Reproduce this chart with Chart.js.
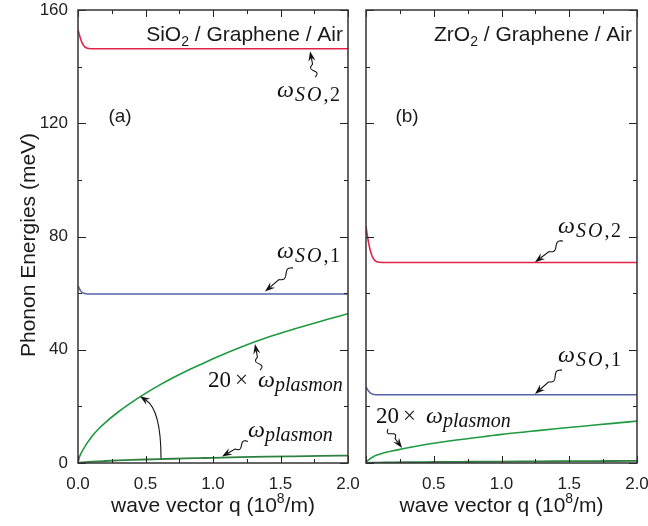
<!DOCTYPE html>
<html>
<head>
<meta charset="utf-8">
<script src="https://cdn.jsdelivr.net/npm/chart.js@4.4.0/dist/chart.umd.min.js"></script>
<style>
html, body { margin: 0; padding: 0; background: #fff; overflow: hidden; }
#wrap { position: relative; width: 648px; height: 526px; }
#left { position: absolute; left: 0; top: 0; }
#right { position: absolute; left: 358px; top: 0; }
</style>
</head>
<body>
<div id="wrap">
  <canvas id="left" width="365" height="526"></canvas>
  <canvas id="right" width="290" height="526"></canvas>
</div>
<script>
// wave vector q (10^8/m)
var q = [0, 0.01, 0.02, 0.03, 0.04, 0.05, 0.06, 0.08, 0.1, 0.15, 0.2, 0.3, 0.4, 0.5, 0.6, 0.7, 0.8, 0.9, 1.0, 1.2, 1.4, 1.6, 1.8, 2.0];

// (a) SiO2 / Graphene / Air
var sio2_so2 = [153.0, 151.3, 149.7, 148.5, 147.6, 147.0, 146.7, 146.4, 146.3, 146.3, 146.3, 146.3, 146.3, 146.3, 146.3, 146.3, 146.3, 146.3, 146.3, 146.3, 146.3, 146.3, 146.3, 146.3];
var sio2_so1 = [62.6, 61.6, 60.8, 60.3, 60.0, 59.9, 59.8, 59.7, 59.7, 59.7, 59.7, 59.7, 59.7, 59.7, 59.7, 59.7, 59.7, 59.7, 59.7, 59.7, 59.7, 59.7, 59.7, 59.7];
var sio2_pl20 = [0, 2.0, 3.2, 4.1, 4.9, 5.7, 6.5, 7.9, 9.2, 11.9, 14.2, 18.1, 21.5, 24.6, 27.4, 30.0, 32.4, 34.6, 36.8, 40.8, 44.3, 47.3, 50.1, 52.7];
var sio2_pl = [0, 0.10, 0.16, 0.21, 0.25, 0.29, 0.33, 0.40, 0.46, 0.60, 0.71, 0.91, 1.08, 1.23, 1.37, 1.50, 1.62, 1.73, 1.84, 2.04, 2.22, 2.37, 2.51, 2.64];

// (b) ZrO2 / Graphene / Air
var zro2_so2 = [83.5, 80.3, 77.6, 75.4, 73.7, 72.6, 71.8, 71.1, 70.9, 70.8, 70.8, 70.8, 70.8, 70.8, 70.8, 70.8, 70.8, 70.8, 70.8, 70.8, 70.8, 70.8, 70.8, 70.8];
var zro2_so1 = [26.9, 26.0, 25.3, 24.8, 24.5, 24.3, 24.2, 24.1, 24.1, 24.1, 24.1, 24.1, 24.1, 24.1, 24.1, 24.1, 24.1, 24.1, 24.1, 24.1, 24.1, 24.1, 24.1, 24.1];
var zro2_pl20 = [0, 0.7, 1.1, 1.5, 1.8, 2.1, 2.4, 2.8, 3.1, 3.8, 4.3, 5.3, 6.2, 7.0, 7.7, 8.3, 8.9, 9.5, 10.1, 11.1, 12.1, 13.0, 13.9, 14.8];
var zro2_pl = [0, 0.04, 0.06, 0.08, 0.09, 0.11, 0.12, 0.14, 0.16, 0.19, 0.22, 0.27, 0.31, 0.35, 0.39, 0.42, 0.45, 0.48, 0.51, 0.56, 0.61, 0.65, 0.70, 0.74];

// ticks
var xTicks = [0, 0.5, 1.0, 1.5, 2.0];
var xMinor = [0.25, 0.75, 1.25, 1.75];
var yTicks = [0, 40, 80, 120, 160];
var yMinor = [20, 60, 100, 140];

var SANS = '"Liberation Sans", Arial, sans-serif';
var SERIF = '"Liberation Serif", "Times New Roman", serif';

function pts(vals) {
	return q.map(function(v, i) { return {x: v, y: vals[i]}; });
}

function drawRich(ctx, x, y, segs, measureOnly) {
	var cx = x;
	segs.forEach(function(s) {
		if (s.gap) { cx += s.gap; return; }
		ctx.font = s.f;
		var sp = s.sp || 0;
		for (var k = 0; k < s.t.length; k++) {
			var ch = s.t[k];
			if (!measureOnly) ctx.fillText(ch, cx, y + (s.dy || 0));
			cx += ctx.measureText(ch).width + sp;
		}
	});
	return cx - x;
}

var MI = 'italic 24px ' + SERIF, MR = '23px ' + SERIF;
var SI = 'italic 20px ' + SERIF, SR = '20px ' + SERIF;
var mathLabels = {
	'SO,2': [{t: 'ω', f: MI}, {gap: 1}, {t: 'SO', f: SI, dy: 4, sp: 2}, {t: ',2', f: SR, dy: 4, sp: 1.5}],
	'SO,1': [{t: 'ω', f: MI}, {gap: 1}, {t: 'SO', f: SI, dy: 4, sp: 2}, {t: ',1', f: SR, dy: 4, sp: 1.5}],
	'20x': [{t: '20', f: MR}, {gap: 4}, {t: '×', f: MR}, {gap: 10}, {t: 'ω', f: MI}, {t: 'plasmon', f: 'italic 20px ' + SERIF, dy: 4}],
	'pl': [{t: 'ω', f: MI}, {t: 'plasmon', f: 'italic 20px ' + SERIF, dy: 4}]
};

function arrowHead(ctx, x, y, ux, uy) {
	var nx = -uy, ny = ux, l = 10, w = 3.6;
	ctx.beginPath();
	ctx.moveTo(x, y);
	ctx.lineTo(x - ux * l + nx * w, y - uy * l + ny * w);
	ctx.lineTo(x - ux * l * 0.65, y - uy * l * 0.65);
	ctx.lineTo(x - ux * l - nx * w, y - uy * l - ny * w);
	ctx.closePath();
	ctx.fill();
}

function squiggle(ctx, x0, y0, x1, y1) {
	var dx = x1 - x0, dy = y1 - y0, L = Math.hypot(dx, dy);
	var ux = dx / L, uy = dy / L, nx = -uy, ny = ux;
	var wl = L * 0.5;
	ctx.beginPath();
	for (var i = 0; i <= 40; i++) {
		var s = i / 40 * wl;
		var off = 2.6 * Math.sin(s / wl * 2 * Math.PI);
		ctx.lineTo(x0 + ux * s + nx * off, y0 + uy * s + ny * off);
	}
	ctx.lineTo(x1 - ux * 7, y1 - uy * 7);
	ctx.stroke();
	arrowHead(ctx, x1, y1, ux, uy);
}

var decor = {
	id: 'decor',
	afterDraw: function(chart, args, opts) {
		var ctx = chart.ctx, a = chart.chartArea, sx = chart.scales.x, sy = chart.scales.y;
		var P = function(p) { return [sx.getPixelForValue(p[0]), sy.getPixelForValue(p[1])]; };
		ctx.save();
		// ticks on all four sides
		ctx.strokeStyle = '#222';
		ctx.lineWidth = 1;
		ctx.beginPath();
		function xt(v, len) {
			var x = Math.round(sx.getPixelForValue(v)) + 0.5;
			ctx.moveTo(x, a.bottom); ctx.lineTo(x, a.bottom - len);
			ctx.moveTo(x, a.top); ctx.lineTo(x, a.top + len);
		}
		function yt(v, len) {
			var y = Math.round(sy.getPixelForValue(v)) + 0.5;
			ctx.moveTo(a.left, y); ctx.lineTo(a.left + len, y);
			ctx.moveTo(a.right, y); ctx.lineTo(a.right - len, y);
		}
		xTicks.forEach(function(v) { xt(v, 7); });
		xMinor.forEach(function(v) { xt(v, 4); });
		yTicks.forEach(function(v) { yt(v, 8); });
		yMinor.forEach(function(v) { yt(v, 4); });
		ctx.stroke();
		ctx.lineWidth = 1.5;
		ctx.strokeStyle = '#333';
		ctx.strokeRect(a.left, a.top, a.right - a.left, a.bottom - a.top);

		ctx.fillStyle = '#1a1a1a';
		ctx.textBaseline = 'alphabetic';
		ctx.textAlign = 'left';
		// panel title (right aligned)
		var tsegs = [{t: opts.title[0], f: '21px ' + SANS}, {t: '2', f: '14px ' + SANS, dy: 5}, {t: opts.title[1], f: '21px ' + SANS}];
		var tw = drawRich(ctx, 0, 0, tsegs, true);
		drawRich(ctx, a.right - 5 - tw, 41, tsegs);
		// panel letter
		ctx.font = '19px ' + SANS;
		ctx.textAlign = 'center';
		ctx.textBaseline = 'middle';
		ctx.fillText(opts.letter, opts.letterX, 117);
		ctx.textAlign = 'left';
		ctx.textBaseline = 'alphabetic';
		// x axis title
		var xsegs = [{t: 'wave vector q (10', f: '21px ' + SANS}, {t: '8', f: '14px ' + SANS, dy: -9}, {t: '/m)', f: '21px ' + SANS}];
		var xw = drawRich(ctx, 0, 0, xsegs, true);
		drawRich(ctx, (a.left + a.right) / 2 - xw / 2, 512, xsegs);
		// y axis title
		if (opts.yTitle) {
			ctx.save();
			ctx.translate(35, 245);
			ctx.rotate(-Math.PI / 2);
			ctx.font = '21px ' + SANS;
			ctx.textAlign = 'center';
			ctx.fillText(opts.yTitle, 0, 0);
			ctx.restore();
		}
		// math labels
		ctx.fillStyle = '#111';
		opts.labels.forEach(function(l) {
			var p = P([l.q, l.e]);
			drawRich(ctx, p[0], p[1], mathLabels[l.kind]);
		});
		// arrows
		ctx.strokeStyle = '#111';
		ctx.lineWidth = 1.1;
		opts.arrows.forEach(function(ar) {
			var f = P(ar.from), t = P(ar.to);
			squiggle(ctx, f[0], f[1], t[0], t[1]);
		});
		if (opts.curved) {
			var f = P(opts.curved.from), c = P(opts.curved.ctrl), t = P(opts.curved.to);
			var dx = t[0] - c[0], dy = t[1] - c[1], L = Math.hypot(dx, dy);
			var ux = dx / L, uy = dy / L;
			ctx.beginPath();
			ctx.moveTo(f[0], f[1]);
			ctx.quadraticCurveTo(c[0], c[1], t[0] - ux * 7, t[1] - uy * 7);
			ctx.stroke();
			arrowHead(ctx, t[0], t[1], ux, uy);
		}
		ctx.restore();
	}
};

function makeChart(id, series, panel) {
	return new Chart(document.getElementById(id), {
		type: 'line',
		data: {
			datasets: [
				{data: pts(series[0]), borderColor: '#e2234b', borderWidth: 1.6},
				{data: pts(series[1]), borderColor: '#5563a8', borderWidth: 1.6},
				{data: pts(series[2]), borderColor: '#1f9a40', borderWidth: 1.6},
				{data: pts(series[3]), borderColor: '#2f8140', borderWidth: 1.8}
			]
		},
		options: {
			responsive: false,
			animation: false,
			parsing: false,
			elements: {point: {radius: 0}, line: {cubicInterpolationMode: 'monotone'}},
			layout: {padding: {top: 10, right: panel.padRight, left: 0, bottom: 0}},
			plugins: {legend: {display: false}, tooltip: {enabled: false}, decor: panel},
			scales: {
				x: {
					type: 'linear', min: 0, max: 2,
					grid: {display: false, drawTicks: false},
					border: {display: false},
					afterBuildTicks: function(s) { s.ticks = xTicks.map(function(v) { return {value: v}; }); },
					afterFit: function(s) { s.height = 63; s.paddingLeft = 0; s.paddingRight = 0; },
					ticks: {
						autoSkip: false, maxRotation: 0, padding: 11, color: '#222',
						font: {family: SANS, size: 17},
						callback: function(v) { return (panel.hideZero && v === 0) ? '' : v.toFixed(1); }
					}
				},
				y: {
					type: 'linear', min: 0, max: 160,
					grid: {display: false, drawTicks: false},
					border: {display: false},
					afterBuildTicks: function(s) { s.ticks = yTicks.map(function(v) { return {value: v}; }); },
					afterFit: function(s) { s.width = panel.yWidth; s.paddingTop = 0; s.paddingBottom = 0; },
					ticks: {display: panel.yLabels, padding: 10, color: '#222', font: {family: SANS, size: 17}}
				}
			}
		},
		plugins: [decor]
	});
}

makeChart('left', [sio2_so2, sio2_so1, sio2_pl20, sio2_pl], {
	padRight: 17, yWidth: 78, yLabels: true, hideZero: false,
	title: ['SiO', ' / Graphene / Air'], letter: '(a)', letterX: 120,
	yTitle: 'Phonon Energies (meV)',
	labels: [
		{q: 1.474, e: 129.3, kind: 'SO,2'},
		{q: 1.474, e: 72.4, kind: 'SO,1'},
		{q: 0.963, e: 26.8, kind: '20x'},
		{q: 1.259, e: 9.2, kind: 'pl'}
	],
	arrows: [
		{from: [1.756, 136.3], to: [1.719, 145.4]},
		{from: [1.593, 68.9], to: [1.385, 60.6]},
		{from: [1.348, 32.8], to: [1.311, 42.0]},
		{from: [1.259, 7.6], to: [1.067, 2.3]}
	],
	curved: {from: [0.615, 1.6], ctrl: [0.615, 18.7], to: [0.459, 23.6]}
});

makeChart('right', [zro2_so2, zro2_so1, zro2_pl20, zro2_pl], {
	padRight: 11, yWidth: 8, yLabels: false, hideZero: true,
	title: ['ZrO', ' / Graphene / Air'], letter: '(b)', letterX: 407 - 358,
	yTitle: null,
	labels: [
		{q: 1.417, e: 81.2, kind: 'SO,2'},
		{q: 1.417, e: 35.7, kind: 'SO,1'},
		{q: 0.074, e: 14.1, kind: '20x'}
	],
	arrows: [
		{from: [1.454, 78.4], to: [1.247, 70.9]},
		{from: [1.446, 32.8], to: [1.247, 24.4]},
		{from: [0.162, 12.0], to: [0.266, 5.3]}
	]
});
</script>
</body>
</html>
